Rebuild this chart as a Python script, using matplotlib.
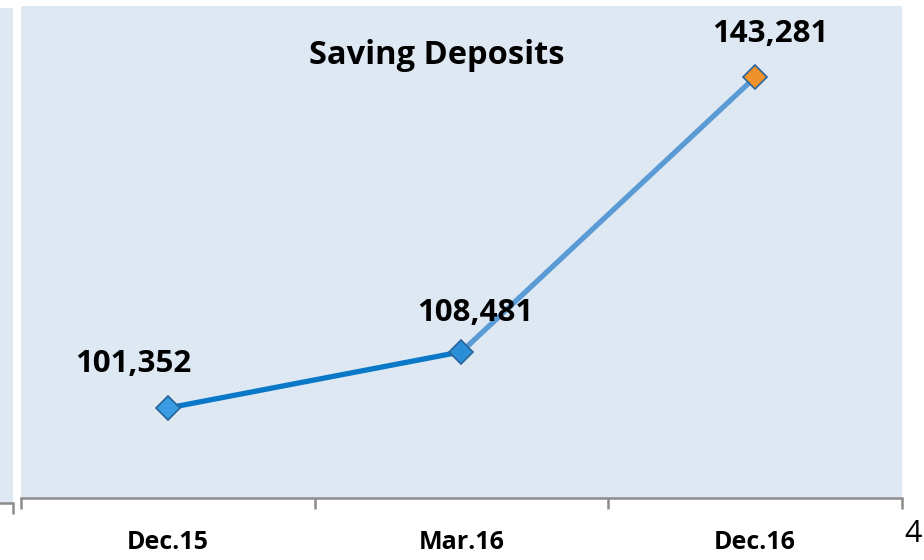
import numpy as np
import matplotlib.pyplot as plt

# data
periods = ["Dec.15", "Mar.16", "Dec.16"]
deposits = [101352, 108481, 143281]
labels = ["101,352", "108,481", "143,281"]
title = "Saving Deposits"

plt.rcParams['font.family'] = ['Open Sans', 'DejaVu Sans']

bg = '#dee8f3'
axis_grey = '#8c8c8c'

fig = plt.figure(figsize=(9.24, 5.6), dpi=100)

# strip of the neighbouring chart on the left edge
ax0 = fig.add_axes([0, 57 / 560, 13 / 924, 495 / 560])
ax0.set_facecolor(bg)
for s in ['top', 'left', 'right']:
    ax0.spines[s].set_visible(False)
ax0.spines['bottom'].set_color(axis_grey)
ax0.spines['bottom'].set_linewidth(1.8)
ax0.set_xlim(0, 1)
ax0.set_xticks([1])
ax0.set_xticklabels([])
ax0.tick_params(axis='x', length=8, width=1.8, color=axis_grey)
ax0.set_yticks([])

# main chart
ax = fig.add_axes([21 / 924, 62 / 560, 881 / 924, 492 / 560])
ax.set_facecolor(bg)
x = np.arange(len(periods))

ax.plot(x[:2], deposits[:2], color='#0a78c8', lw=3.8, solid_capstyle='butt', zorder=2)
ax.plot(x[1:], deposits[1:], color='#5b9bd5', lw=3.8, solid_capstyle='butt', zorder=2)
face = ['#3a9be0', '#2b8fd8', '#f0922a']
for xi, yi, fc in zip(x, deposits, face):
    ax.plot(xi, yi, marker='D', ms=12, mfc=fc, mec='#2a6496', mew=1.2, zorder=3)

offsets = [(-25, 26), (10, 22), (11, 25)]
for xi, yi, lab, off in zip(x, deposits, labels, offsets):
    ax.annotate(lab, (xi, yi), xytext=off, textcoords='offset points',
                ha='center', va='baseline', fontsize=22.5, fontweight='bold')

ax.text(0.472, 0.90, title, transform=ax.transAxes, ha='center', va='center',
        fontsize=23.5, fontweight='bold')

ax.set_xlim(-0.5, 2.5)
ax.set_ylim(89950, 152300)
ax.set_yticks([])
for s in ['top', 'left', 'right']:
    ax.spines[s].set_visible(False)
ax.spines['bottom'].set_color(axis_grey)
ax.spines['bottom'].set_linewidth(1.8)
ax.set_xticks([-0.5, 0.5, 1.5, 2.5])
ax.set_xticklabels([])
ax.tick_params(axis='x', which='major', length=8, width=1.8, color=axis_grey)
ax.set_xticks(x, minor=True)
ax.set_xticklabels(periods, minor=True, fontsize=18, fontweight='bold')
ax.tick_params(axis='x', which='minor', length=0, pad=23)

# page number
fig.text(913 / 924, 1 - 534 / 560, "4", ha='center', va='center', fontsize=22)

fig.savefig('out.png', dpi=100)
